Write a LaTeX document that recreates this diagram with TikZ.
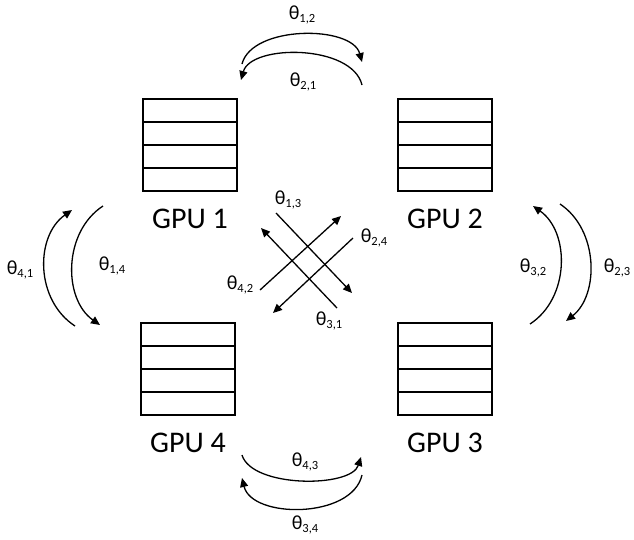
\documentclass[tikz,border=0pt]{standalone}
\usepackage{fontspec}
\setmainfont{Carlito}
\usetikzlibrary{arrows.meta,calc}
\newcommand\thlab[1]{θ\raisebox{-0.35ex}{\fontsize{12.5}{13}\selectfont #1}}
\begin{document}
\begin{tikzpicture}[x=1pt,y=-1pt,
  gpubox/.style={draw, line width=2.2, minimum width=94, minimum height=92, inner sep=0,
    path picture={\foreach \k in {1,2,3}
      \draw[line width=2.2] ($(path picture bounding box.north west)!\k/4!(path picture bounding box.south west)$) --
                          ($(path picture bounding box.north east)!\k/4!(path picture bounding box.south east)$);}},
  gpulab/.style={anchor=base, font=\fontsize{30}{32}\selectfont, inner sep=0},
  thetalab/.style={font=\fontsize{20}{22}\selectfont, inner sep=0},
  flow/.style={line width=1.3, -{Triangle[length=9,width=8]}}]
\useasboundingbox (0,0) rectangle (634,539);
% GPU boxes
\node[gpubox] (g1) at (190,145) {};
\node[gpubox] (g2) at (445,145) {};
\node[gpubox] (g4) at (188,369) {};
\node[gpubox] (g3) at (445,369) {};
\node[gpulab] (l1) at (190,228) {GPU 1};
\node[gpulab] (l2) at (445,228) {GPU 2};
\node[gpulab] (l4) at (188,452) {GPU 4};
\node[gpulab] (l3) at (445,452) {GPU 3};
% arrow end points
\coordinate (t1a) at (242,64);  \coordinate (t1b) at (362,62);
\coordinate (t2a) at (362,85);  \coordinate (t2b) at (241,80);
\coordinate (b1a) at (242,455); \coordinate (b1b) at (361,457);
\coordinate (b2a) at (362,475); \coordinate (b2b) at (242,478);
\coordinate (la1) at (75,326);  \coordinate (la2) at (72,210);
\coordinate (lb1) at (103,206); \coordinate (lb2) at (100,325);
\coordinate (ra1) at (530,324); \coordinate (ra2) at (533,206);
\coordinate (rb1) at (560,204); \coordinate (rb2) at (566,321);
\coordinate (c1a) at (276,213); \coordinate (c1b) at (352,293);
\coordinate (c2a) at (260,290); \coordinate (c2b) at (341,216);
\coordinate (c3a) at (353,238); \coordinate (c3b) at (273,313);
\coordinate (c4a) at (337,308); \coordinate (c4b) at (261,228);
% curved arrows
\draw[flow] (t1a) .. controls (252,25) and (352,25) .. (t1b);
\draw[flow] (t2a) .. controls (352,44) and (251,44) .. (t2b);
\draw[flow] (b1a) .. controls (252,488) and (351,488) .. (b1b);
\draw[flow] (b2a) .. controls (352,519) and (252,519) .. (b2b);
\draw[flow] (la1) .. controls (35,300) and (35,236) .. (la2);
\draw[flow] (lb1) .. controls (63,232) and (63,299) .. (lb2);
\draw[flow] (ra1) .. controls (570,298) and (570,232) .. (ra2);
\draw[flow] (rb1) .. controls (599,230) and (599,295) .. (rb2);
% diagonal arrows
\draw[flow] (c1a) -- (c1b);
\draw[flow] (c2a) -- (c2b);
\draw[flow] (c3a) -- (c3b);
\draw[flow] (c4a) -- (c4b);
% labels
\node[thetalab] (th12) at (302,15) {\thlab{1,2}};
\node[thetalab] (th21) at (303,82) {\thlab{2,1}};
\node[thetalab] (th43) at (305,462) {\thlab{4,3}};
\node[thetalab] (th34) at (305,525) {\thlab{3,4}};
\node[thetalab] (th41) at (20,270) {\thlab{4,1}};
\node[thetalab] (th14) at (112,266) {\thlab{1,4}};
\node[thetalab] (th32) at (533,268) {\thlab{3,2}};
\node[thetalab] (th23) at (617,268) {\thlab{2,3}};
\node[thetalab] (th13) at (288,200) {\thlab{1,3}};
\node[thetalab] (th24) at (374,238) {\thlab{2,4}};
\node[thetalab] (th42) at (240,285) {\thlab{4,2}};
\node[thetalab] (th31) at (329,321) {\thlab{3,1}};
\end{tikzpicture}
\end{document}
